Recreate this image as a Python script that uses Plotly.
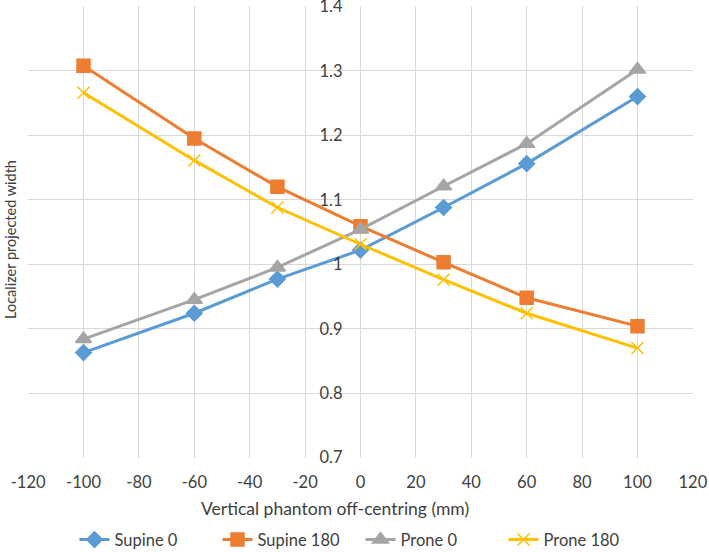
import plotly.graph_objects as go

x_vals = [-100, -60, -30, 0, 30, 60, 100]
supine_0 = [0.863, 0.924, 0.977, 1.022, 1.088, 1.156, 1.260]
supine_180 = [1.308, 1.195, 1.120, 1.059, 1.003, 0.948, 0.904]
prone_0 = [0.884, 0.945, 0.995, 1.054, 1.121, 1.187, 1.302]
prone_180 = [1.266, 1.161, 1.088, 1.031, 0.976, 0.924, 0.870]

x_ticks = list(range(-120, 121, 20))
x_ticktext = [str(v) for v in x_ticks]
y_ticks = [0.7, 0.8, 0.9, 1.0, 1.1, 1.2, 1.3, 1.4]
y_ticktext = ["0.7", "0.8", "0.9", "1", "1.1", "1.2", "1.3", "1.4"]

series = [
    ("Supine 0", supine_0, "#5B9BD5", "diamond", 12),
    ("Supine 180", supine_180, "#ED7D31", "square", 13),
    ("Prone 0", prone_0, "#A5A5A5", "triangle-up", 14),
    ("Prone 180", prone_180, "#FFC000", "x-thin", 12),
]

fig = go.Figure()
for name, vals, color, sym, size in series:
    fig.add_trace(go.Scatter(
        x=x_vals, y=vals, name=name, mode="lines+markers",
        line=dict(color=color, width=3),
        marker=dict(symbol=sym, size=size, color=color,
                    line=dict(color=color, width=1.5)),
    ))

font = "Lato, 'Open Sans', sans-serif"
fig.update_layout(
    width=709, height=552,
    margin=dict(l=28, r=16, t=6, b=94, autoexpand=False),
    paper_bgcolor="white", plot_bgcolor="white",
    font=dict(family=font, size=16.5, color="#404040"),
    xaxis=dict(range=[-120.05, 120.05], tickvals=x_ticks, ticktext=x_ticktext,
               showgrid=True, gridcolor="#D9D9D9", gridwidth=1,
               zeroline=False, showline=False, ticks="", automargin=False,
               ticklabelstandoff=12, ticklabeloverflow="allow"),
    yaxis=dict(range=[0.6995, 1.4005], tickvals=y_ticks, ticktext=y_ticktext,
               showgrid=True, gridcolor="#D9D9D9", gridwidth=1,
               zeroline=False, showline=False, ticks="", automargin=False,
               anchor="free", position=0.5, ticklabelstandoff=18,
               ticklabeloverflow="allow"),
    legend=dict(orientation="h", x=0.5, xanchor="center",
                yref="container", y=0.022, yanchor="middle",
                entrywidth=98, entrywidthmode="pixels",
                font=dict(size=16.5, color="#404040")),
    showlegend=True,
)
fig.add_annotation(text="Vertical phantom off-centring (mm)", xref="paper", yref="paper",
                   x=(335 - 28) / 665, y=-(508 - 458) / 452, showarrow=False,
                   font=dict(size=17.5, color="#404040", family=font),
                   xanchor="center", yanchor="middle")
fig.add_annotation(text="Localizer projected width", xref="paper", yref="paper",
                   x=(10 - 28) / 665, y=1 - (240 - 6) / 452, textangle=-90, showarrow=False,
                   font=dict(size=14.5, color="#404040", family=font),
                   xanchor="center", yanchor="middle")

fig.write_html("out.html", config={"displayModeBar": False},
               post_script="document.body.style.margin='0';")
